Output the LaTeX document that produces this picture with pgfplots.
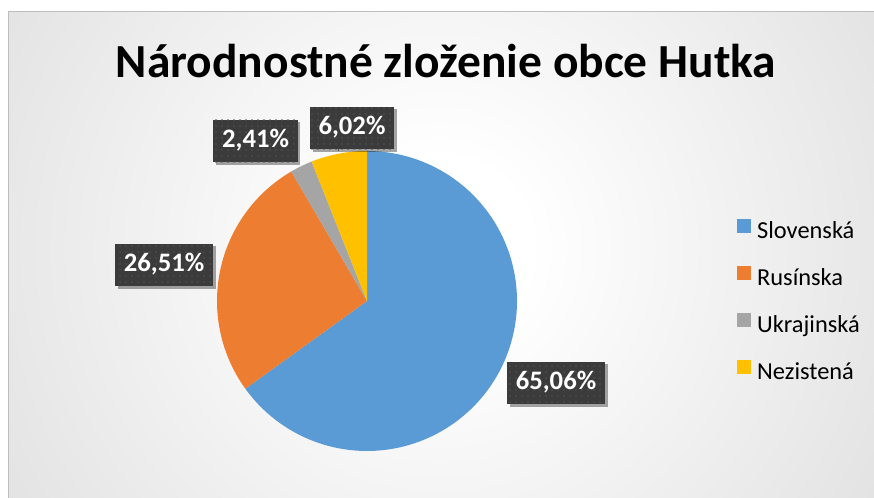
\documentclass[border=0pt]{standalone}
\usepackage{fontspec}
\setmainfont{Carlito}
\usepackage{pgfplots}
\usepackage{pgfplotstable}
\pgfplotsset{compat=1.18}
\usetikzlibrary{shadows,patterns.meta}
\definecolor{cS}{HTML}{5B9BD5}
\definecolor{cR}{HTML}{ED7D31}
\definecolor{cU}{HTML}{A5A5A5}
\definecolor{cN}{HTML}{FFC000}
\definecolor{boxc}{HTML}{3B3B3B}
\definecolor{dotc}{HTML}{525252}
\definecolor{bggray}{HTML}{C8C8C8}
\definecolor{bggray2}{HTML}{C2C2C2}
\definecolor{bordergray}{HTML}{BDBDBD}
\pgfdeclareradialshading{bgshade}{\pgfpoint{0bp}{0bp}}{color(0bp)=(white); color(4bp)=(white); color(40bp)=(bggray); color(50bp)=(bggray2)}
\tikzdeclarepattern{
  name=boxdots,
  type=uncolored,
  bounding box={(-2.25pt,-2.25pt) and (2.25pt,2.25pt)},
  tile size={(4.5pt,4.5pt)},
  code={\fill (0pt,0pt) circle (0.6pt);}
}
\tikzset{lab/.style={fill=boxc, text=white, font=\bfseries\fontsize{20}{23}\selectfont,
    inner xsep=6.5pt, inner ysep=7.5pt, text height=13.5pt, text depth=3.5pt,
    preaction={drop shadow={shadow xshift=2pt, shadow yshift=-2pt, opacity=0.35, fill=black}},
    postaction={pattern=boxdots, pattern color=dotc}}}

\pgfplotstableread{
name value
Slovenská 65.06
Rusínska 26.51
Ukrajinská 2.41
Nezistená 6.02
}\piedata

\begin{document}%
\begin{tikzpicture}[x=0.75pt,y=0.75pt]
\pgfplotstablegetelem{0}{value}\of\piedata\let\vA\pgfplotsretval
\pgfplotstablegetelem{1}{value}\of\piedata\let\vB\pgfplotsretval
\pgfplotstablegetelem{2}{value}\of\piedata\let\vC\pgfplotsretval
\pgfplotstablegetelem{3}{value}\of\piedata\let\vD\pgfplotsretval
\pgfmathsetmacro\aA{90-3.6*\vA}
\pgfmathsetmacro\aB{\aA-3.6*\vB}
\pgfmathsetmacro\aC{\aB-3.6*\vC}
\pgfmathsetmacro\aD{\aC-3.6*\vD}
\fill[white] (0,0) rectangle (874,498);
\begin{scope}
\clip (8,0) rectangle (874,486);
\shade[shading=bgshade] (440,250) circle (560);
\end{scope}
\draw[bordergray, line width=0.75pt] (8,0) -- (8,486) -- (874,486);
\node[anchor=base, font=\bfseries\fontsize{35.6}{42}\selectfont] at (446,420) {Národnostné zloženie obce Hutka};
\coordinate (ax) at (217,47);
\begin{axis}[
  at={(ax)}, anchor=south west,
  x=112.5pt, y=112.5pt,
  xmin=-1, xmax=1, ymin=-1, ymax=1,
  enlargelimits=false, hide axis, clip=false,
  legend image code/.code={\fill[#1] (0pt,-0.5pt) rectangle (10.5pt,10pt);},
  legend cell align=left,
  legend style={at={(1.733,0.497)}, anchor=west, draw=none, fill=none,
    font=\fontsize{18.3}{22}\selectfont, row sep=16.75pt, inner sep=0pt,
    nodes={inner sep=0pt, text height=13pt, text depth=4pt},
    /tikz/every odd column/.append style={column sep=4.5pt}},
]
\addplot[fill=cS, draw=none, domain=\aA:90, samples=120, variable=\t] ({cos(\t)},{sin(\t)}) -- (0,0) -- cycle;
\addlegendentry{Slovenská}
\addplot[fill=cR, draw=none, domain=\aB:\aA, samples=60, variable=\t] ({cos(\t)},{sin(\t)}) -- (0,0) -- cycle;
\addlegendentry{Rusínska}
\addplot[fill=cU, draw=none, domain=\aC:\aB, samples=12, variable=\t] ({cos(\t)},{sin(\t)}) -- (0,0) -- cycle;
\addlegendentry{Ukrajinská}
\addplot[fill=cN, draw=none, domain=\aD:\aC, samples=20, variable=\t] ({cos(\t)},{sin(\t)}) -- (0,0) -- cycle;
\addlegendentry{Nezistená}
\draw[gray, line width=0.75pt] (-0.193,1.04) -- (-0.193,1.0);
\node[lab] at (1.26,-0.547) {65,06\%};
\node[lab] at (-1.353,0.24) {26,51\%};
\node[lab] at (-0.743,1.067) {2,41\%};
\node[lab] at (-0.1,1.153) {6,02\%};
\end{axis}
\pgfresetboundingbox
\path[use as bounding box] (0,0) rectangle (874,498);
\end{tikzpicture}%
\end{document}
